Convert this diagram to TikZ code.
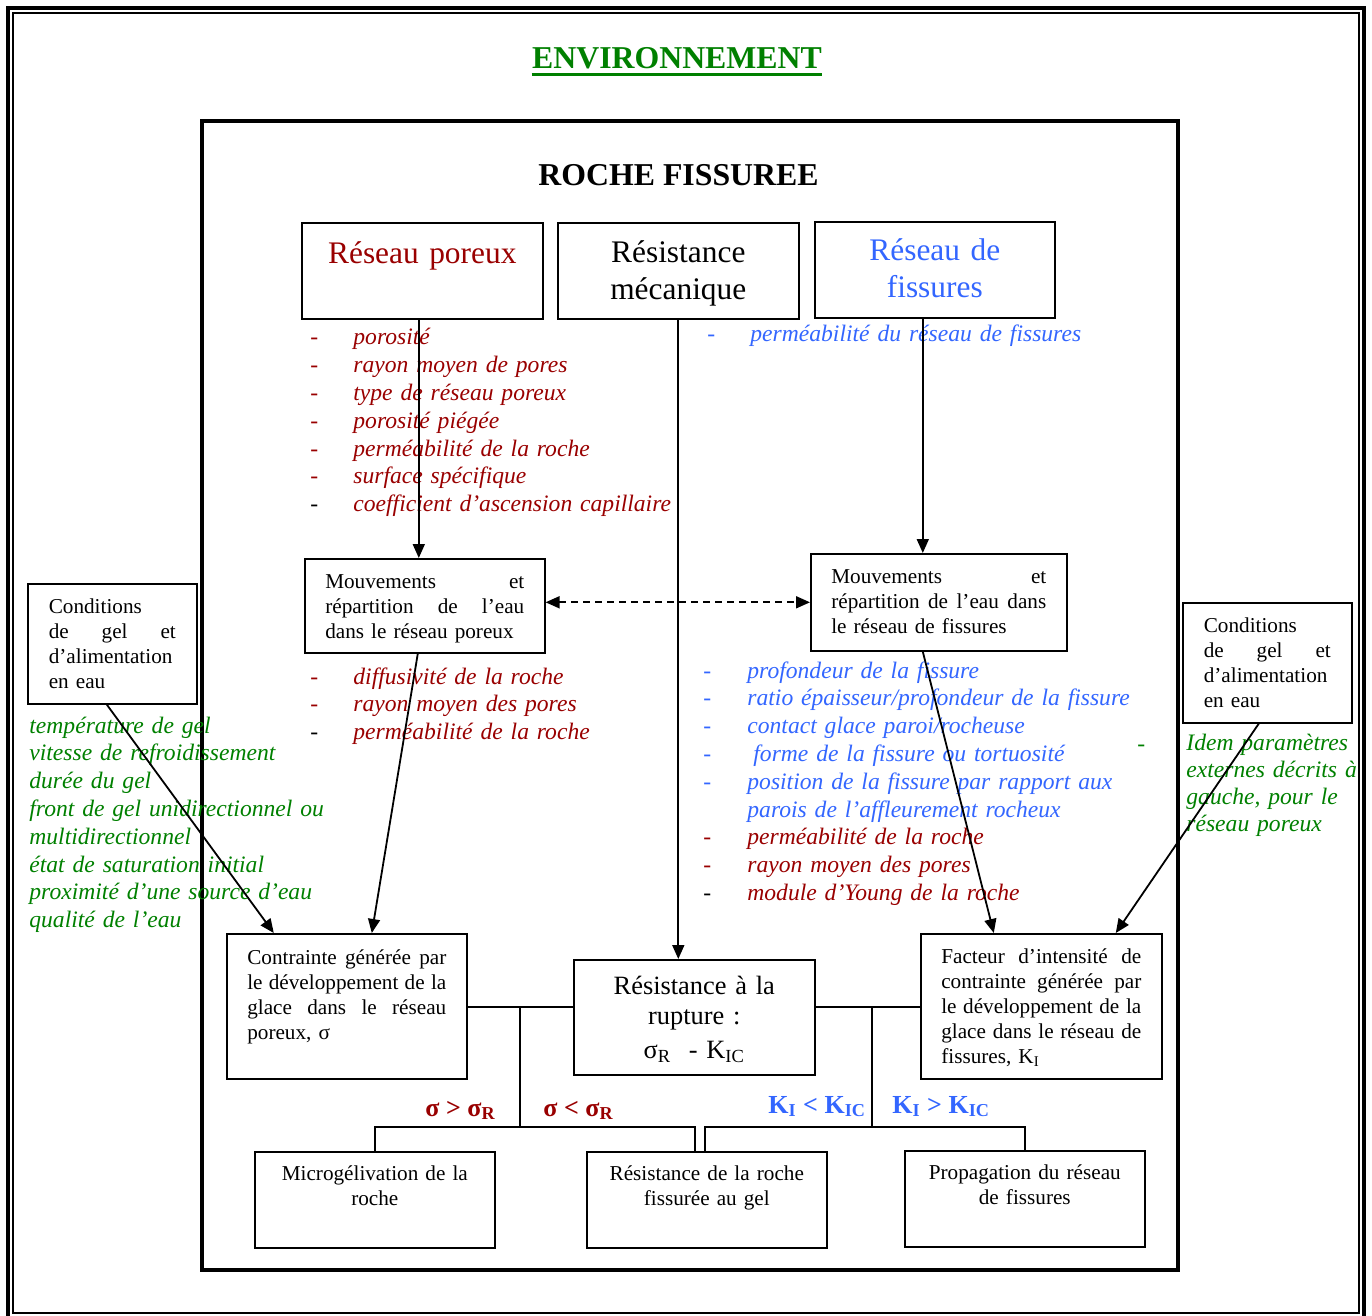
\documentclass[tikz,border=0pt]{standalone}
\usepackage{fontspec}
\setmainfont{Liberation Serif}
\usetikzlibrary{calc,arrows.meta}
\definecolor{dred}{RGB}{153,0,0}
\definecolor{lblue}{RGB}{51,102,255}
\definecolor{dgreen}{RGB}{0,128,0}
\begin{document}
\begin{tikzpicture}[x=0.5pt,y=-0.5pt,
  bx/.style={draw, line width=0.8pt, inner sep=0pt, anchor=north west},
  big/.style={font=\fontsize{15.7}{18.5}\selectfont},
  small/.style={font=\fontsize{10.6}{12.4}\selectfont},
  mid/.style={font=\fontsize{13.2}{15}\selectfont},
  arr/.style={line width=0.9pt, -{Triangle[length=7pt,width=6pt]}},
  darr/.style={line width=0.9pt, dashed, dash pattern=on 3.5pt off 2.5pt, {Triangle[length=7pt,width=6pt]}-{Triangle[length=7pt,width=6pt]}},
  lnk/.style={line width=0.9pt},
  lst/.style={font=\fontsize{11.8}{13.9}\selectfont\itshape, inner sep=0pt, anchor=base west, text width=220pt},
  dsh/.style={font=\fontsize{11.8}{13.9}\selectfont, inner sep=0pt, anchor=base west, text width=10pt},
  lbl/.style={font=\fontsize{13}{15}\selectfont\bfseries, inner sep=0pt, anchor=base west}
]
\useasboundingbox (0,0) rectangle (1372,1316);
% frames
\draw[line width=1.6pt] (8,8) rectangle (1364,1320);
\draw[line width=0.9pt] (13,13) rectangle (1359,1313);
\draw[line width=2pt] (202,121.5) rectangle (1178,1270);
% titles
\node[font=\fontsize{15.9}{19}\selectfont\bfseries, text=dgreen, inner sep=0pt, anchor=base] (env) at (677,69) {ENVIRONNEMENT};
\draw[dgreen, line width=1.3pt] ($(env.base west)+(0,5.5)$) -- ($(env.base east)+(0,5.5)$);
\node[font=\fontsize{15.9}{19}\selectfont\bfseries, inner sep=0pt, anchor=base] (rfs) at (678.5,186) {ROCHE FISSUREE};
% top boxes
\node[bx, big, minimum width=120.5pt, text width=110pt, align=center, text height=20.5pt, text depth=27.5pt, text=dred] (rp) at (301,222) {Réseau poreux};
\node[bx, big, minimum width=120.5pt, text width=110pt, align=center, text height=20pt, text depth=28pt] (rm) at (557,222) {Résistance\\ mécanique};
\node[bx, big, minimum width=120pt, text width=110pt, align=center, text height=19.5pt, text depth=28.5pt, text=lblue] (rf) at (814,221) {Réseau de\\ fissures};
% middle boxes
\node[bx, small, minimum width=120pt, text width=99.5pt, text height=15pt, text depth=32pt] (ml) at (304,558) {Mouvements\hfill et\\ répartition\hfill de\hfill l’eau\\ dans le réseau poreux};
\node[bx, small, minimum width=128pt, text width=107.5pt, text height=15pt, text depth=33.5pt] (mr) at (810,553) {Mouvements\hfill et\\ répartition\hfill de\hfill l’eau\hfill dans\\ le réseau de fissures};
\node[bx, small, minimum width=84.5pt, text width=63.5pt, text height=15pt, text depth=45pt] (cl) at (27,583) {Conditions\\ de\hfill gel\hfill et\\ d’alimentation\\ en eau};
\node[bx, small, minimum width=84.5pt, text width=63.5pt, text height=15pt, text depth=45pt] (cr) at (1182,602) {Conditions\\ de\hfill gel\hfill et\\ d’alimentation\\ en eau};
% lower boxes
\node[bx, small, minimum width=120pt, text width=99.5pt, text height=15.5pt, text depth=57pt] (ct) at (226,933) {Contrainte\hfill générée\hfill par\\ le\hfill développement\hfill de\hfill la\\ glace\hfill dans\hfill le\hfill réseau\\ poreux, σ};
\node[bx, mid, minimum width=120.5pt, text width=110pt, align=center, text height=17.5pt, text depth=40pt] (rr) at (573,959) {Résistance à la\\ rupture :\\[2pt] σ\textsubscript{R}\ \ - K\textsubscript{IC}};
\node[bx, small, minimum width=120.5pt, text width=100pt, text height=15pt, text depth=57.5pt] (fa) at (920,933) {Facteur\hfill d’intensité\hfill de\\ contrainte\hfill générée\hfill par\\ le\hfill développement\hfill de\hfill la\\ glace\hfill dans\hfill le\hfill réseau\hfill de\\ fissures, K\textsubscript{I}};
\node[bx, small, minimum width=120pt, text width=110pt, align=center, text height=14.5pt, text depth=33.5pt] (mg) at (254,1151) {Microgélivation de la\\ roche};
\node[bx, small, minimum width=120pt, text width=110pt, align=center, text height=14.5pt, text depth=33.5pt] (rg) at (586,1151) {Résistance de la roche\\ fissurée au gel};
\node[bx, small, minimum width=120pt, text width=110pt, align=center, text height=14.5pt, text depth=33.5pt] (pr) at (904,1150) {Propagation du réseau\\ de fissures};
% lists
\node[dsh] (d1) at (310,345) {\color{dred}-\\-\\-\\-\\-\\-\\\color{black}-};
\node[lst, text=dred] (l1) at (353,345) {porosité\\ rayon moyen de pores\\ type de réseau poreux\\ porosité piégée\\ perméabilité de la roche\\ surface spécifique\\ coefficient d’ascension capillaire};
\node[dsh, text=lblue] (d2) at (707,342) {-};
\node[lst, text=lblue] (l2) at (750,342) {perméabilité du réseau de fissures};
\node[dsh] (d3) at (310,684) {\color{dred}-\\-\\\color{black}-};
\node[lst, text=dred] (l3) at (353,684) {diffusivité de la roche\\ rayon moyen des pores\\ perméabilité de la roche};
\node[dsh] (d4) at (703,678) {\color{lblue}-\\-\\-\\-\\-\\\mbox{}\\\color{dred}-\\-\\\color{black}-};
\node[lst, text=lblue] (l4) at (747,678) {profondeur de la fissure\\ ratio épaisseur/profondeur de la fissure\\ contact glace paroi/rocheuse\\ \hspace*{3pt}forme de la fissure ou tortuosité\\ position de la fissure par rapport aux\\ parois de l’affleurement rocheux\\ \color{dred}perméabilité de la roche\\ rayon moyen des pores\\ module d’Young de la roche};
\node[dsh, text=dgreen] (d5) at (1137,751) {-};
\node[lst, text=dgreen] (l5) at (29,733) {température de gel\\ vitesse de refroidissement\\ durée du gel\\ front de gel unidirectionnel ou\\ multidirectionnel\\ état de saturation initial\\ proximité d’une source d’eau\\ qualité de l’eau};
\node[lst, font=\fontsize{11.8}{13.65}\selectfont\itshape, text=dgreen, text width=90pt] (l6) at (1186,750) {Idem paramètres\\ externes décrits à\\ gauche, pour le\\ réseau poreux};
% arrows
\draw[arr] ($(rp.south)+(-3.5,0)$) coordinate (a1) -- (a1 |- ml.north);
\draw[arr] (rm.south) -- (rm.south |- rr.north);
\draw[arr] ($(rf.south)+(-12,0)$) coordinate (a2) -- (a2 |- mr.north);
\draw[darr] (ml.east |- mr.west) -- (mr.west);
\draw[arr] ($(ml.south)+(-7,0)$) -- ($(ct.north)+(25,0)$);
\draw[arr] ($(cl.south)+(-5.5,0)$) -- ($(ct.north)+(-73,0)$);
\draw[arr] ($(mr.south)+(-16,0)$) -- ($(fa.north)+(-47.5,0)$);
\draw[arr] ($(cr.south)+(-8.5,0)$) -- ($(fa.north)+(74.5,0)$);
% decision brackets
\coordinate (j1) at (520,1007);
\coordinate (j2) at (872,1007);
\coordinate (h1) at (520,1127);
\coordinate (h2) at (872,1127);
\draw[lnk] (ct.east |- j1) -- (rr.west |- j1);
\draw[lnk] (rr.east |- j2) -- (fa.west |- j2);
\draw[lnk] (j1) -- (h1);
\draw[lnk] (j2) -- (h2);
\draw[lnk] (mg.north) |- (h1) -| ($(rg.north)+(-12,0)$);
\draw[lnk] ($(rg.north)+(-2,0)$) |- (h2) -| (pr.north);
% labels
\node[lbl, text=dred] (s1) at (425,1116) {σ > σ\textsubscript{R}};
\node[lbl, text=dred] (s2) at (543,1116) {σ < σ\textsubscript{R}};
\node[lbl, text=lblue] (k1) at (768,1113) {K\textsubscript{I} < K\textsubscript{IC}};
\node[lbl, text=lblue] (k2) at (892,1113) {K\textsubscript{I} > K\textsubscript{IC}};
\end{tikzpicture}
\end{document}
